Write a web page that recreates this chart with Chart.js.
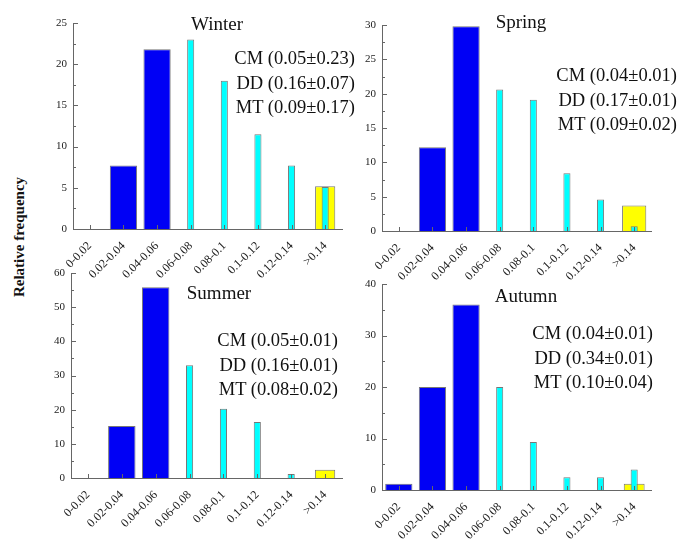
<!DOCTYPE html>
<html><head><meta charset="utf-8">
<script src="https://cdn.jsdelivr.net/npm/chart.js@4/dist/chart.umd.min.js"></script>
<style>
body{margin:0;width:680px;height:540px;background:#fff;position:relative;overflow:hidden;font-family:"Liberation Serif","Times New Roman",serif;}
.c{position:absolute;}
.t{position:absolute;width:200px;text-align:center;font-size:19px;line-height:19px;color:#111;white-space:nowrap;}
.s{position:absolute;font-size:18.5px;line-height:24.5px;color:#111;text-align:right;white-space:nowrap;}
.yl{position:absolute;left:-81px;top:229px;width:200px;height:16px;line-height:16px;text-align:center;font-weight:bold;font-size:15px;color:#111;transform:rotate(-90deg);white-space:nowrap;}
</style>
</head><body>
<div class="yl">Relative frequency</div>
<script>
const categories = ['0-0.02','0.02-0.04','0.04-0.06','0.06-0.08','0.08-0.1','0.1-0.12','0.12-0.14','>0.14'];

const winterCM = [null, 7.7, 21.8, null, null, null, null, null];
const winterMT = [null, null, null, 23.0, 18.0, 11.5, 7.7, 5.1];
const winterDD = [null, null, null, null, null, null, null, 5.2];

const springCM = [null, 12.2, 29.8, null, null, null, null, null];
const springMT = [null, null, null, 20.6, 19.1, 8.4, 4.6, 0.7];
const springDD = [null, null, null, null, null, null, null, 3.7];

const summerCM = [null, 15.2, 55.8, null, null, null, null, null];
const summerMT = [null, null, null, 33.0, 20.3, 16.4, 1.2, null];
const summerDD = [null, null, null, null, null, null, null, 2.4];

const autumnCM = [1.2, 20.0, 36.0, null, null, null, null, null];
const autumnMT = [null, null, null, 20.0, 9.3, 2.5, 2.5, 4.0];
const autumnDD = [null, null, null, null, null, null, null, 1.2];

const winterStats = ['CM (0.05\u00b10.23)', 'DD (0.16\u00b10.07)', 'MT (0.09\u00b10.17)'];
const springStats = ['CM (0.04\u00b10.01)', 'DD (0.17\u00b10.01)', 'MT (0.09\u00b10.02)'];
const summerStats = ['CM (0.05\u00b10.01)', 'DD (0.16\u00b10.01)', 'MT (0.08\u00b10.02)'];
const autumnStats = ['CM (0.04\u00b10.01)', 'DD (0.34\u00b10.01)', 'MT (0.10\u00b10.04)'];

const yMax = {winter: 25, spring: 30, summer: 60, autumn: 40};
const yStep = {winter: 5, spring: 5, summer: 10, autumn: 10};

const panels = [
  {name:'Winter', cm:winterCM, mt:winterMT, dd:winterDD, stats:winterStats, max:yMax.winter, step:yStep.winter,
   box:{left:30, top:0, w:330, h:290}, yW:43, pad:{left:0,right:18,top:23,bottom:0}, xH:61, ddW:0.6,
   title:{cx:217, top:14}, st:{right:325, top:46}},
  {name:'Spring', cm:springCM, mt:springMT, dd:springDD, stats:springStats, max:yMax.spring, step:yStep.spring,
   box:{left:345, top:0, w:335, h:290}, yW:37, pad:{left:0,right:29,top:25,bottom:0}, xH:59, ddW:0.72,
   title:{cx:521, top:12}, st:{right:3, top:63}},
  {name:'Summer', cm:summerCM, mt:summerMT, dd:summerDD, stats:summerStats, max:yMax.summer, step:yStep.summer,
   box:{left:30, top:255, w:330, h:285}, yW:41, pad:{left:0,right:18,top:18,bottom:0}, xH:62, ddW:0.6,
   title:{cx:219, top:283}, st:{right:342, top:328}},
  {name:'Autumn', cm:autumnCM, mt:autumnMT, dd:autumnDD, stats:autumnStats, max:yMax.autumn, step:yStep.autumn,
   box:{left:345, top:260, w:335, h:280}, yW:37, pad:{left:0,right:29,top:24,bottom:0}, xH:50, ddW:0.62,
   title:{cx:526, top:286}, st:{right:27, top:321}}
];

const inwardTicks = {
  id:'inwardTicks',
  afterDatasetsDraw(chart){
    const ctx = chart.ctx, x = chart.scales.x, y = chart.scales.y, a = chart.chartArea;
    ctx.save(); ctx.strokeStyle = '#666'; ctx.lineWidth = 1; ctx.beginPath();
    x.ticks.forEach((t,i)=>{ const px = Math.round(x.getPixelForTick(i)) + 0.5; ctx.moveTo(px, a.bottom); ctx.lineTo(px, a.bottom - 4); });
    const tv = y.ticks.map(t=>t.value);
    tv.forEach((v,i)=>{
      const py = Math.round(y.getPixelForValue(v)) + 0.5;
      ctx.moveTo(a.left, py); ctx.lineTo(a.left + 5, py);
      if (i < tv.length - 1) {
        const pm = Math.round(y.getPixelForValue((v + tv[i+1]) / 2)) + 0.5;
        ctx.moveTo(a.left, pm); ctx.lineTo(a.left + 3, pm);
      }
    });
    ctx.stroke(); ctx.restore();
  }
};

const font = '"Liberation Serif","Times New Roman",serif';

panels.forEach(p=>{
  const cv = document.createElement('canvas');
  cv.className = 'c';
  cv.style.left = p.box.left + 'px'; cv.style.top = p.box.top + 'px';
  cv.style.width = p.box.w + 'px'; cv.style.height = p.box.h + 'px';
  cv.width = p.box.w; cv.height = p.box.h;
  document.body.appendChild(cv);

  const t = document.createElement('div');
  t.className = 't'; t.textContent = p.name;
  t.style.left = (p.title.cx - 100) + 'px'; t.style.top = p.title.top + 'px';
  document.body.appendChild(t);

  const s = document.createElement('div');
  s.className = 's'; s.innerHTML = p.stats.join('<br>');
  s.style.right = p.st.right + 'px'; s.style.top = p.st.top + 'px';
  document.body.appendChild(s);

  new Chart(cv, {
    type:'bar',
    data:{
      labels: categories,
      datasets:[
        {label:'CM', data:p.cm, backgroundColor:'#0000F5', borderColor:'#777', borderWidth:1, barPercentage:0.81, categoryPercentage:1, grouped:false, order:1},
        {label:'MT', data:p.mt, backgroundColor:'#00FFFF', borderColor:'#777', borderWidth:1, barPercentage:0.21, categoryPercentage:1, grouped:false, order:0},
        {label:'DD', data:p.dd, backgroundColor:'#FFFF00', borderColor:'#777', borderWidth:1, barPercentage:p.ddW, categoryPercentage:1, grouped:false, order:2}
      ]
    },
    options:{
      responsive:false, animation:false, devicePixelRatio:1,
      layout:{padding:p.pad},
      plugins:{legend:{display:false}, tooltip:{enabled:false}, title:{display:false}},
      scales:{
        x:{
          offset:true,
          grid:{display:false, drawTicks:false},
          border:{display:true, color:'#666', width:1},
          ticks:{autoSkip:false, maxRotation:45, minRotation:45, padding:10, color:'#222', font:{family:font, size:12}},
          afterFit(sc){ sc.height = p.xH; }
        },
        y:{
          min:0, max:p.max,
          grid:{display:false, drawTicks:false},
          border:{display:true, color:'#666', width:1},
          ticks:{stepSize:p.step, padding:6, color:'#222', font:{family:font, size:11}},
          afterFit(sc){ sc.width = p.yW; }
        }
      }
    },
    plugins:[inwardTicks]
  });
});
</script>
</body></html>
